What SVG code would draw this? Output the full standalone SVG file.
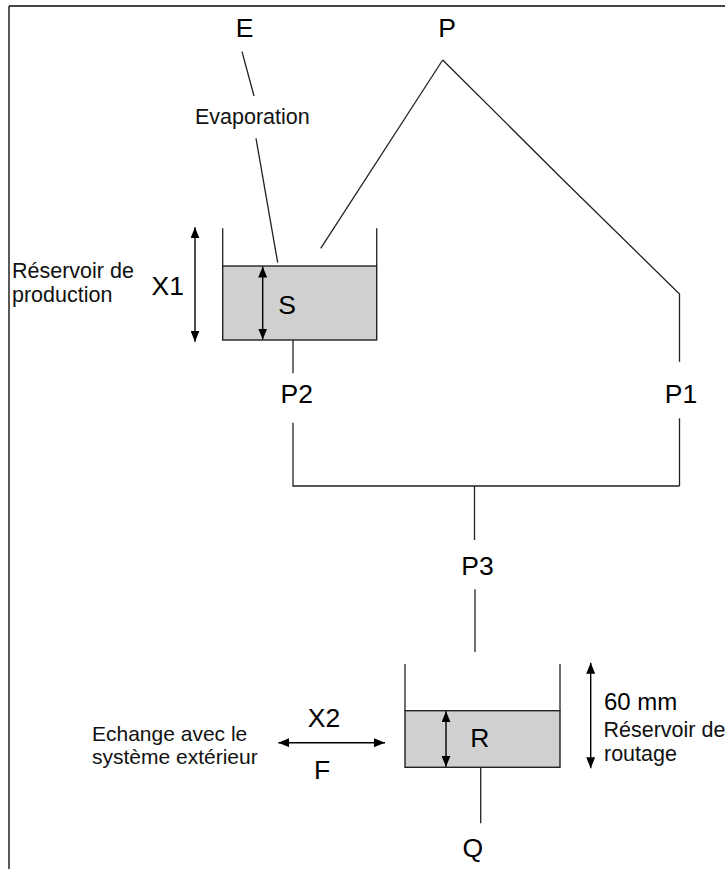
<svg xmlns="http://www.w3.org/2000/svg" width="725" height="869" viewBox="0 0 725 869">
  <style>
    .ln { stroke: #222; stroke-width: 1.3; fill: none; }
    .tank { fill: #d0d0d0; stroke: #222; stroke-width: 1.4; }
    .big { font-family: "Liberation Sans", Arial, sans-serif; font-size: 26.5px; fill: #000; }
    .mid { font-family: "Liberation Sans", Arial, sans-serif; font-size: 24px; fill: #000; }
    .sm { font-family: "Liberation Sans", Arial, sans-serif; font-size: 21.5px; fill: #111; }
    .sm2 { font-family: "Liberation Sans", Arial, sans-serif; font-size: 21px; fill: #111; }
    .c { text-anchor: middle; }
    .arr { stroke: #000; stroke-width: 1.4; fill: none; marker-start: url(#ah); marker-end: url(#ah); }
  </style>
  <defs>
    <marker id="ah" viewBox="0 0 11 9" refX="11" refY="4.5" markerWidth="11" markerHeight="9" markerUnits="userSpaceOnUse" orient="auto-start-reverse">
      <path d="M0,0 L11,4.5 L0,9 z" fill="#000"/>
    </marker>
  </defs>
  <rect width="725" height="869" fill="#fff"/>

  <g id="frame">
    <line x1="9" y1="6" x2="725" y2="6" stroke="#444" stroke-width="2"/>
    <line x1="9" y1="6" x2="9" y2="869" stroke="#222" stroke-width="1.5"/>
  </g>

  <g id="evaporation">
    <text class="big c" x="244.5" y="37">E</text>
    <text class="sm" x="195" y="124">Evaporation</text>
  </g>

  <g id="precipitation">
    <text class="big c" x="447" y="37">P</text>
  </g>

  <g id="reservoir-production">
    <rect class="tank" x="222.7" y="266" width="154" height="74"/>
    <polyline class="ln" points="222.7,228.3 222.7,266"/>
    <polyline class="ln" points="376.7,228.3 376.7,266"/>
    <line class="arr" x1="262.7" y1="266.5" x2="262.7" y2="339.5"/>
    <text class="big c" x="287" y="314">S</text>
    <line class="arr" x1="195" y1="227.3" x2="195" y2="341.7"/>
    <text class="big c" x="167.7" y="295">X1</text>
    <text class="sm" x="12" y="278">Réservoir de</text>
    <text class="sm" x="12" y="302">production</text>
  </g>

  <g id="reservoir-routage">
    <rect class="tank" x="405" y="710.7" width="155" height="56.6"/>
    <polyline class="ln" points="405,664 405,710.7"/>
    <polyline class="ln" points="560,664 560,710.7"/>
    <line class="arr" x1="446" y1="711.2" x2="446" y2="766.8"/>
    <text class="big c" x="479.7" y="746.7">R</text>
    <line class="arr" x1="590.7" y1="662.7" x2="590.7" y2="768.3"/>
    <text class="mid" x="604" y="710">60 mm</text>
    <text class="sm" x="603.5" y="737">Réservoir de</text>
    <text class="sm" x="604" y="760.5">routage</text>
  </g>

  <g id="echange">
    <text class="sm2" x="92" y="740.5">Echange avec le</text>
    <text class="sm2" x="92" y="763.5">système extérieur</text>
    <line class="arr" x1="278.3" y1="742.7" x2="385" y2="742.7"/>
    <text class="big c" x="324" y="726.7">X2</text>
    <text class="big c" x="322" y="779">F</text>
  </g>

  <g id="labels-flux">
    <text class="big c" x="296.7" y="403">P2</text>
    <text class="big c" x="681" y="403">P1</text>
    <text class="big c" x="477.5" y="575">P3</text>
    <text class="big c" x="472.7" y="857">Q</text>
  </g>

  <g id="connectors">
    <line class="ln" x1="242" y1="51.7" x2="254" y2="96"/>
    <line class="ln" x1="256" y1="138.3" x2="277.7" y2="262.7"/>
    <line class="ln" x1="442.7" y1="60" x2="320.7" y2="248.3"/>
    <polyline class="ln" points="442.7,60 560,176.7 679.5,294 679.5,361.7"/>
    <line class="ln" x1="679.5" y1="418.3" x2="679.5" y2="486"/>
    <line class="ln" x1="293" y1="340" x2="293" y2="373.3"/>
    <polyline class="ln" points="293,422.7 293,486 679.5,486"/>
    <line class="ln" x1="474.5" y1="486" x2="474.5" y2="540"/>
    <line class="ln" x1="475" y1="589.3" x2="475" y2="652"/>
    <line class="ln" x1="480.7" y1="767.3" x2="480.7" y2="823.3"/>
  </g>
</svg>
